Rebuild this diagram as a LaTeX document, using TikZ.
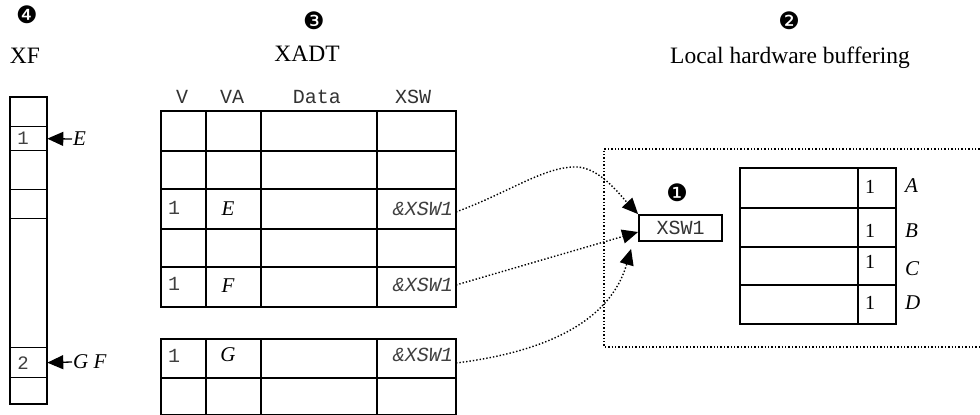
\documentclass[tikz,border=0pt]{standalone}
\usepackage{fontspec}
\setmainfont{Liberation Serif}
\setmonofont{Liberation Mono}
\newfontfamily\dingfont{DejaVu Sans}
\usetikzlibrary{arrows.meta,calc}
\begin{document}
\begin{tikzpicture}[x=1pt,y=-1pt,
  cell/.style={draw,line width=1.9pt,inner sep=0pt,anchor=north west},
  xfcell/.style={draw,line width=1.3pt,inner sep=0pt,anchor=north west},
  ttl/.style={font=\fontsize{23.5}{28}\selectfont},
  num/.style={font=\dingfont\fontsize{24}{28}\selectfont},
  mono/.style={font=\ttfamily\fontsize{20}{24}\selectfont,text=black!80},
  imono/.style={font=\ttfamily\itshape\fontsize{20}{24}\selectfont,text=black!75},
  ital/.style={font=\itshape\fontsize{21}{25}\selectfont},
  serif/.style={font=\fontsize{20}{24}\selectfont},
  dot/.style={dotted,line width=1.4pt},
  tip/.style={-{Triangle[length=16pt,width=14pt]}},
]
\useasboundingbox (0,0) rectangle (980,415);
\fill[white] (0,0) rectangle (980,415);

% ---- titles
\node[num] (n4) at (27,15) {❹};
\node[ttl] (tXF) at (25,56) {XF};
\node[num] (n3) at (314,21) {❸};
\node[ttl] (tXADT) at (307,54) {XADT};
\node[num] (n2) at (789,21) {❷};
\node[ttl] (tLHB) at (790,58) {Local hardware buffering};

% ---- XF column
\foreach \r/\ya/\yb in {1/97/126,2/126/150,3/150/189,4/189/218,5/218/347,6/347/377,7/377/403}
  \node[xfcell, minimum width=36pt, minimum height={(\yb-\ya)*1pt}] (xf\r) at (10,\ya) {};
\draw[line width=2pt] (xf1.north west) rectangle (xf7.south east);
\node[mono, font=\ttfamily\fontsize{19}{22}\selectfont, text=black!75] (xfone) at (23,138) {1};
\node[mono, font=\ttfamily\fontsize{19}{22}\selectfont, text=black!75] (xftwo) at (23,363) {2};
\node[ital, anchor=west, inner sep=1pt] (lE) at (72,139) {E};
\node[ital, anchor=west, inner sep=1pt] (lGF) at (72,362) {G F};
\draw[tip, line width=1.3pt] (lE.west) -- (xf2.east);
\draw[tip, line width=1.3pt] (lGF.west) -- (xf6.east);

% ---- XADT table
\foreach \r/\ya/\yb in {1/110/150,2/150/188,3/188/228,4/228/266,5/266/306,6/338/377,7/377/414}
  \foreach \c/\xa/\xb in {1/160/205,2/205/260,3/260/376,4/376/455}
    \node[cell, minimum width={(\xb-\xa)*1pt}, minimum height={(\yb-\ya)*1pt}] (t\r\c) at (\xa,\ya) {};
\node[mono] (hV) at (182,97) {V};
\node[mono] (hVA) at (232,97) {VA};
\node[mono] (hData) at (317,97) {Data};
\node[mono] (hXSW) at (413,97) {XSW};

\node[mono, text=black!75] (vE) at (174,208) {1};
\node[ital] (aE) at (228,209) {E};
\node[imono, anchor=east, inner sep=1pt] (xswE) at (454,209) {\&XSW1};
\node[mono, text=black!75] (vF) at (174,284) {1};
\node[ital] (aF) at (228,286) {F};
\node[imono, anchor=east, inner sep=1pt] (xswF) at (454,285) {\&XSW1};
\node[mono, text=black!75] (vG) at (174,356) {1};
\node[ital] (aG) at (228,355) {G};
\node[imono, anchor=east, inner sep=1pt] (xswG) at (454,355) {\&XSW1};

% ---- local buffering box
\draw[dot] (990,149) -| (604,347) -- (990,347);
\node[num] (n1) at (677,193) {❶};
\node[draw, line width=1.8pt, minimum width=83pt, minimum height=26pt, inner sep=0pt, mono] (xsw1) at (680.5,228) {XSW1};

\foreach \r/\ya/\yb in {1/167/207,2/207/246,3/246/284,4/284/323} {
  \node[cell, minimum width=118pt, minimum height={(\yb-\ya)*1pt}] (b\r a) at (739,\ya) {};
  \node[cell, minimum width=38pt, minimum height={(\yb-\ya)*1pt}] (b\r b) at (857,\ya) {};
}
\node[serif] (bA1) at (870,187) {1};
\node[serif] (bB1) at (870,231) {1};
\node[serif] (bC1) at (870,262) {1};
\node[serif] (bD1) at (870,303) {1};
\node[ital, anchor=west, inner sep=1pt] (lA) at (904,186) {A};
\node[ital, anchor=west, inner sep=1pt] (lB) at (904,231) {B};
\node[ital, anchor=west, inner sep=1pt] (lC) at (904,269) {C};
\node[ital, anchor=west, inner sep=1pt] (lD) at (904,303) {D};

% ---- connectors
\coordinate (peak) at (577,167);
\draw[dot, tip] ($(xswE.east)+(2,3)$) .. controls (510,192) and (545,166) .. (peak)
   .. controls (600,168) and (620,195) .. (xsw1.north west);
\draw[dot, tip] ($(xswF.east)+(2,0)$) -- ($(xsw1.west)+(0,4)$);
\draw[dot, tip] ($(xswG.east)+(2,8)$) .. controls (545,352) and (610,322) .. ($(xsw1.south west)+(-7,7)$);
\end{tikzpicture}
\end{document}
